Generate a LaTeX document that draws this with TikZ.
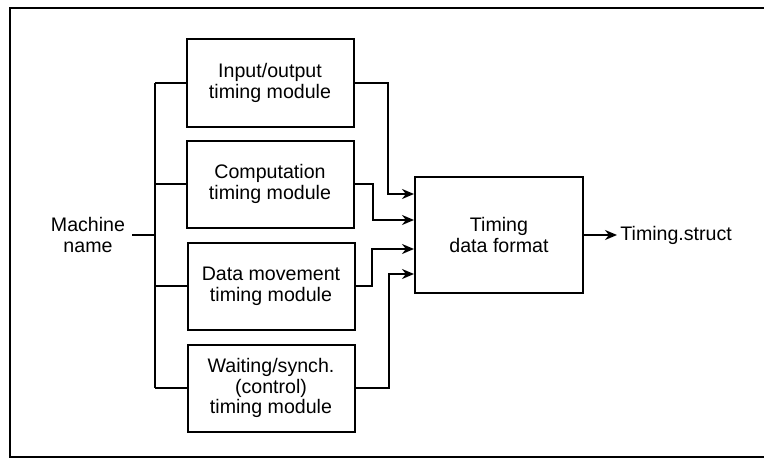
\documentclass[tikz,border=0pt]{standalone}
\usepackage{fontspec}
\setmainfont{Liberation Sans}
\usetikzlibrary{arrows.meta,positioning}

\begin{document}
\begin{tikzpicture}[x=0.5pt,y=-0.5pt,
  font=\fontsize{9.8}{10.4}\selectfont,
  module/.style={draw, line width=1pt, minimum width=83.5pt, minimum height=43.5pt, align=center, inner sep=1pt},
  wire/.style={line width=1pt},
  arr/.style={wire, -{Stealth[length=6pt,width=5pt]}}]
\useasboundingbox (0,0) rectangle (764,460);
% Frame
\draw[line width=1.1pt] (764,8) -- (10,8) -- (10,457) -- (764,457);
% Timing modules
\node[module] (io) at (270,83) {Input/output\\timing module};
\node[module] (comp) at (270,184) {Computation\\timing module};
\node[module] (data) at (271,286) {Data movement\\timing module};
\node[module] (wait) at (271,388) {Waiting/synch.\\(control)\\timing module};
% Format box, input and output
\node[module, minimum width=84pt, minimum height=58pt] (fmt) at (499,235) {Timing\\data format};
\node[align=center] (mach) at (88,235) {Machine\\name};
\node[anchor=west, inner sep=1.5pt] (out) at (617,235) {Timing.struct};
\coordinate (bus) at (155,235);
% Fan-out to modules
\draw[wire] (mach) -- (bus);
\draw[wire] (bus |- io.west) -- (bus |- wait.west);
\foreach \m in {io,comp,data,wait}
  \draw[wire] (bus |- \m.west) -- (\m.west);
% Into the format box
\draw[arr] (io.east) -- ++(33,0) |- ([yshift=20.5pt]fmt.west);
\draw[arr] (comp.east) -- ++(18,0) |- ([yshift=7.5pt]fmt.west);
\draw[arr] (data.east) -- ++(16,0) |- ([yshift=-7pt]fmt.west);
\draw[arr] (wait.east) -- ++(33,0) |- ([yshift=-19.5pt]fmt.west);
\draw[arr] (fmt.east) -- (out.west);
\end{tikzpicture}
\end{document}
